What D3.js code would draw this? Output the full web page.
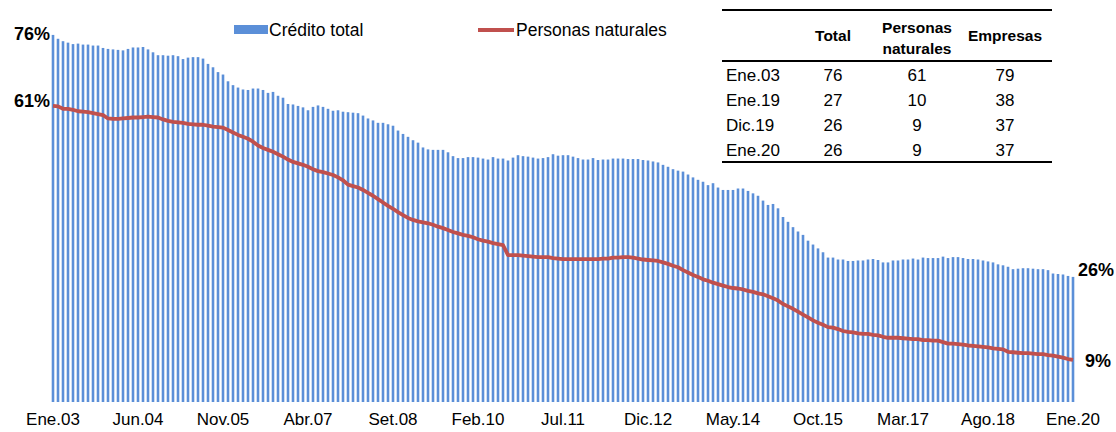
<!DOCTYPE html>
<html>
<head>
<meta charset="utf-8">
<script src="https://cdn.jsdelivr.net/npm/d3@7"></script>
<style>
  body { margin: 0; background: #fff; }
  svg { display: block; font-family: "Liberation Sans", Arial, sans-serif; }
</style>
</head>
<body>
<div id="chart"></div>
<script>
// monthly series, Ene.03 .. Ene.20 (205 months)
var monthNames = ["Ene","Feb","Mar","Abr","May","Jun","Jul","Ago","Set","Oct","Nov","Dic"];
var months = [];
for (var yr = 3; yr <= 20; yr++) {
    for (var m = 0; m < 12; m++) {
        if (yr == 20 && m > 0) break;
        months.push(monthNames[m] + "." + (yr < 10 ? "0" + yr : yr));
    }
}

var creditoTotal = [
    76.0, 75.2, 74.7, 74.4, 74.1, 74.2, 74.0, 74.0, 73.8, 73.8, 73.3, 73.1, 73.0, 72.9, 72.8, 73.1, 73.4, 73.4, 73.5, 73.0,
    72.4, 71.8, 71.8, 71.7, 71.8, 71.6, 71.0, 71.3, 71.4, 71.4, 71.1, 70.0, 69.3, 68.3, 67.8, 66.4, 65.6, 65.1,
    64.7, 64.6, 64.9, 64.9, 64.6, 64.0, 64.2, 63.4, 63.0, 61.7, 61.6, 61.3, 61.0, 60.4, 61.1, 61.4, 61.1, 60.7, 60.3, 60.4,
    60.1, 60.0, 59.9, 59.8, 59.3, 58.7, 58.3, 57.8, 57.8, 57.5, 57.2, 56.2, 55.5, 54.9, 54.2, 53.7, 52.7,
    52.3, 52.2, 52.2, 52.2, 51.7, 50.9, 50.5, 50.5, 50.7, 50.7, 50.6, 50.4, 50.2, 50.7, 50.4, 50.4, 50.0, 50.6, 51.1, 50.9,
    50.8, 50.6, 50.4, 50.5, 50.7, 51.3, 51.0, 51.1, 51.1, 50.8, 50.5, 50.2, 50.2, 50.5, 50.1, 50.2, 50.2,
    50.4, 50.4, 50.4, 50.3, 50.3, 50.3, 50.1, 50.0, 49.8, 49.6, 49.1, 48.7, 48.2, 47.9, 47.7, 47.1, 46.5, 46.0, 45.6, 44.9,
    45.3, 44.4, 43.9, 43.9, 43.9, 44.2, 44.2, 43.7, 43.2, 42.7, 41.7, 40.8, 41.0, 40.1, 38.3,
    37.3, 36.2, 35.3, 34.6, 33.4, 32.6, 31.8, 31.0, 29.9, 29.9, 29.5, 29.5, 29.2, 29.2, 29.3, 29.3, 29.5, 29.6, 29.4, 28.9,
    28.9, 29.3, 29.3, 29.5, 29.5, 29.7, 29.5, 29.9, 29.8, 29.8, 29.8, 30.1, 29.8, 30.0, 30.0, 29.8, 29.6, 29.6, 29.5,
    29.3, 29.1, 28.9, 28.5, 28.3, 28.0, 27.5, 27.6, 27.7, 27.7, 27.6, 27.5, 27.5, 27.3, 26.6, 26.5, 26.4, 26.1, 25.9
];

var personasNaturales = [
    61.3, 61.2, 60.7, 60.7, 60.5, 60.2, 60.1, 60.0, 59.8, 59.6, 59.4, 58.7, 58.6, 58.6, 58.7, 58.8, 58.9, 58.9, 59.0, 59.1,
    59.0, 58.9, 58.5, 58.2, 58.0, 57.9, 57.8, 57.6, 57.5, 57.4, 57.4, 57.2, 57.0, 56.9, 56.8, 56.3, 55.8, 55.3,
    54.9, 54.5, 53.9, 53.1, 52.6, 52.2, 51.8, 51.3, 50.8, 50.2, 49.7, 49.4, 49.1, 48.7, 48.2, 47.8, 47.6, 47.3, 47.0, 46.5,
    45.9, 45.0, 44.7, 44.4, 43.9, 43.3, 42.7, 42.0, 41.3, 40.6, 40.0, 39.3, 38.7, 38.1, 37.7, 37.4, 37.2,
    37.0, 36.7, 36.3, 36.0, 35.6, 35.2, 34.9, 34.6, 34.4, 34.1, 33.7, 33.4, 33.2, 32.9, 32.7, 32.5, 30.4, 30.4, 30.4, 30.3,
    30.2, 30.1, 30.0, 30.0, 30.0, 29.8, 29.7, 29.6, 29.6, 29.6, 29.6, 29.6, 29.6, 29.6, 29.6, 29.7, 29.7,
    29.9, 29.9, 30.0, 30.0, 29.9, 29.7, 29.5, 29.4, 29.3, 29.2, 28.9, 28.6, 28.2, 27.9, 27.3, 26.8, 26.3, 25.9, 25.4, 25.1,
    24.7, 24.4, 24.1, 23.8, 23.6, 23.5, 23.3, 23.0, 22.8, 22.5, 22.3, 21.9, 21.5, 21.0, 20.3,
    19.8, 19.3, 18.7, 18.1, 17.5, 16.9, 16.4, 16.0, 15.5, 15.4, 15.1, 14.7, 14.5, 14.4, 14.2, 14.1, 14.1, 13.9, 13.8, 13.5,
    13.3, 13.3, 13.3, 13.2, 13.1, 13.0, 13.0, 12.8, 12.8, 12.7, 12.7, 12.4, 12.1, 12.1, 12.0, 11.9, 11.7, 11.6, 11.5,
    11.4, 11.3, 11.1, 11.0, 10.9, 10.4, 10.3, 10.2, 10.1, 10.1, 10.0, 9.9, 9.9, 9.7, 9.6, 9.4, 9.2, 8.9, 8.7
];

var tickLabels = ["Ene.03","Jun.04","Nov.05","Abr.07","Set.08","Feb.10","Jul.11","Dic.12","May.14","Oct.15","Mar.17","Ago.18","Ene.20"];

// summary table
var tableHeader = ["", "Total", "Personas naturales", "Empresas"];
var tableRows = ["Ene.03", "Ene.19", "Dic.19", "Ene.20"];
var tableTotal = [76, 27, 26, 26];
var tablePN = [61, 10, 9, 9];
var tableEmp = [79, 38, 37, 37];

var width = 1116, height = 432;
var blue = "#5b8fd8", red = "#c0504d";

var svg = d3.select("#chart").append("svg")
    .attr("width", width)
    .attr("height", height);

var x = d3.scaleBand()
    .domain(months)
    .range([50.5, 1075.5])
    .paddingInner(0.48)
    .paddingOuter(0.24);

var y = d3.scaleLinear()
    .domain([0, 80])
    .range([402, 15.6]);

var cx = function(i) { return x(months[i]) + x.bandwidth() / 2; };

// bars
svg.append("g")
    .selectAll("rect")
    .data(creditoTotal)
    .join("rect")
    .attr("x", (d, i) => x(months[i]))
    .attr("width", x.bandwidth())
    .attr("y", d => y(d))
    .attr("height", d => y(0) - y(d))
    .attr("fill", blue);

// line
var line = d3.line()
    .x((d, i) => cx(i))
    .y(d => y(d));

svg.append("path")
    .datum(personasNaturales)
    .attr("fill", "none")
    .attr("stroke", red)
    .attr("stroke-width", 3.8)
    .attr("stroke-linejoin", "round")
    .attr("d", line);

// x axis labels only
var xAxis = d3.axisBottom(x)
    .tickValues(tickLabels)
    .tickSize(0)
    .tickPadding(0);

svg.append("g")
    .attr("transform", "translate(0,411)")
    .call(xAxis)
    .call(g => g.select(".domain").remove())
    .call(g => g.selectAll("text")
        .attr("dy", "0.8em")
        .style("font-size", "17px")
        .style("font-family", "'Liberation Sans', Arial, sans-serif")
        .attr("fill", "#000"));

// end value labels
var last = months.length - 1;
var endLabels = [
    {v: creditoTotal[0], x: 50, y: y(creditoTotal[0]) + 5, a: "end"},
    {v: personasNaturales[0], x: 50, y: y(personasNaturales[0]) + 1, a: "end"},
    {v: creditoTotal[last], x: 1078, y: y(creditoTotal[last]) - 1, a: "start"},
    {v: personasNaturales[last], x: 1085, y: y(personasNaturales[last]) + 7, a: "start"}
];
svg.append("g")
    .selectAll("text")
    .data(endLabels)
    .join("text")
    .attr("x", d => d.x)
    .attr("y", d => d.y)
    .attr("text-anchor", d => d.a)
    .style("font-size", "18px")
    .style("font-weight", "bold")
    .text(d => Math.round(d.v) + "%");

// legend
var legend = svg.append("g").style("font-size", "17.5px");
legend.append("rect")
    .attr("x", 234).attr("y", 25).attr("width", 34).attr("height", 9)
    .attr("fill", blue);
legend.append("text").attr("x", 269).attr("y", 36).text("Crédito total");
legend.append("line")
    .attr("x1", 478).attr("x2", 514).attr("y1", 30).attr("y2", 30)
    .attr("stroke", red).attr("stroke-width", 3.8);
legend.append("text").attr("x", 516).attr("y", 36).text("Personas naturales");

// table
var tbl = svg.append("g");
var colX = [726, 833, 917, 1005];
[10, 61, 162].forEach(function(ly) {
    tbl.append("line")
        .attr("x1", 722).attr("x2", 1052)
        .attr("y1", ly).attr("y2", ly)
        .attr("stroke", "#000").attr("stroke-width", 2);
});
var head = tbl.append("g")
    .style("font-size", "15.5px")
    .style("font-weight", "bold")
    .attr("text-anchor", "middle");
head.append("text").attr("x", colX[1]).attr("y", 41).text(tableHeader[1]);
var pnWords = tableHeader[2].split(" ");
head.append("text").attr("x", colX[2]).attr("y", 33).text(pnWords[0]);
head.append("text").attr("x", colX[2]).attr("y", 54).text(pnWords[1]);
head.append("text").attr("x", colX[3]).attr("y", 41).text(tableHeader[3]);

var rowY = d3.scalePoint().domain(tableRows).range([81, 156]);
var body = tbl.append("g").style("font-size", "17px");
tableRows.forEach(function(r, i) {
    body.append("text").attr("x", colX[0]).attr("y", rowY(r)).text(r);
    body.append("text").attr("x", colX[1]).attr("y", rowY(r)).attr("text-anchor", "middle").text(tableTotal[i]);
    body.append("text").attr("x", colX[2]).attr("y", rowY(r)).attr("text-anchor", "middle").text(tablePN[i]);
    body.append("text").attr("x", colX[3]).attr("y", rowY(r)).attr("text-anchor", "middle").text(tableEmp[i]);
});
</script>
</body>
</html>
